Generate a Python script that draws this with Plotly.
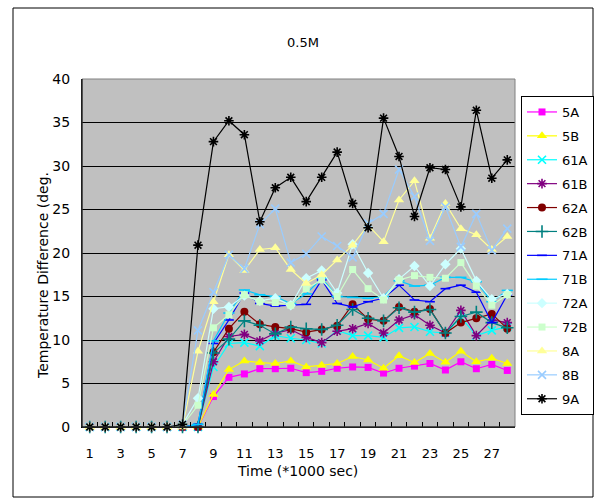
import plotly.graph_objects as go

# Time axis (x1000 sec)
time = list(range(1, 29))
tick_labels = [1, 3, 5, 7, 9, 11, 13, 15, 17, 19, 21, 23, 25, 27]

# Temperature difference per sensor
s_5A = [0, 0, 0, 0, 0, 0, 0, 0, 3.5, 5.7, 6.1, 6.7, 6.7, 6.75, 6.25, 6.4, 6.75, 6.9, 6.85, 6.2, 6.75, 7.0, 7.3, 6.55, 7.5, 6.7, 7.2, 6.5]
s_5B = [0, 0, 0, 0, 0, 0, 0, 0, 3.75, 6.6, 7.6, 7.4, 7.3, 7.6, 6.9, 7.1, 7.3, 8.1, 7.7, 6.75, 8.2, 7.4, 8.45, 7.45, 8.7, 7.5, 7.9, 7.3]
s_61A = [0, 0, 0, 0, 0, 0, 0, 0, 6.9, 9.6, 9.7, 9.3, 10.5, 10.2, 10.0, 9.6, 11.1, 10.5, 10.5, 10.3, 11.4, 11.5, 10.95, 10.8, 12.6, 10.5, 11.1, 11.5]
s_61B = [0, 0, 0, 0, 0, 0, 0, 0, 7.5, 10.4, 10.65, 9.9, 10.8, 11.2, 10.3, 9.7, 11.0, 11.3, 11.9, 10.8, 12.3, 12.9, 11.7, 10.8, 13.4, 10.5, 12.3, 12.0]
s_62A = [0, 0, 0, 0, 0, 0, 0, 0, 8.6, 11.3, 13.25, 11.8, 11.5, 11.3, 10.9, 11.2, 11.65, 14.1, 12.4, 12.2, 13.8, 13.25, 13.55, 10.8, 12.0, 12.5, 13.0, 11.3]
s_62B = [0, 0, 0, 0, 0, 0, 0, 0, 8.5, 10.1, 12.2, 11.7, 10.7, 11.5, 11.3, 11.2, 11.7, 13.5, 12.5, 12.2, 13.7, 13.2, 13.5, 10.8, 12.7, 13.2, 12.0, 11.4]
s_71A = [0, 0, 0, 0, 0, 0, 0, 0.3, 9.6, 12.3, 15.4, 14.2, 13.9, 14.0, 14.1, 16.9, 14.2, 13.8, 14.4, 14.8, 16.3, 14.6, 14.4, 15.9, 16.3, 15.5, 12.0, 15.2]
s_71B = [0, 0, 0, 0, 0, 0, 0, 0.3, 9.9, 13.1, 15.75, 15.2, 15.0, 14.2, 15.3, 17.1, 15.0, 14.9, 14.8, 15.0, 16.8, 16.2, 16.3, 17.2, 17.2, 16.7, 14.4, 15.7]
s_72A = [0, 0, 0, 0, 0, 0, 0.3, 3.3, 13.6, 13.8, 15.1, 14.5, 14.8, 14.0, 17.1, 18.0, 15.4, 21.0, 17.7, 14.8, 17.0, 18.5, 16.2, 18.7, 20.5, 16.8, 14.7, 15.3]
s_72B = [0, 0, 0, 0, 0, 0, 0.2, 2.5, 11.4, 12.9, 15.2, 14.4, 14.3, 14.0, 15.9, 16.9, 15.0, 18.1, 15.9, 14.6, 16.9, 17.4, 17.2, 17.1, 18.9, 16.2, 14.0, 15.2]
s_8A = [0, 0, 0, 0, 0, 0, 0, 8.7, 14.4, 19.8, 18.0, 20.4, 20.6, 18.1, 16.5, 17.5, 19.2, 20.9, 23.2, 21.3, 26.1, 28.3, 21.7, 25.7, 22.8, 22.1, 20.4, 21.9]
s_8B = [0, 0, 0, 0, 0, 0, 0.3, 11.1, 15.5, 19.8, 18.2, 23.3, 25.1, 18.9, 19.9, 21.9, 20.8, 19.5, 23.4, 24.5, 29.6, 26.5, 21.4, 25.3, 20.7, 24.5, 20.3, 22.8]
s_9A = [0, 0, 0, 0, 0, 0, 0.3, 20.9, 32.8, 35.2, 33.6, 23.6, 27.5, 28.7, 25.9, 28.7, 31.6, 25.7, 22.9, 35.5, 31.1, 24.2, 29.8, 29.6, 25.3, 36.4, 28.6, 30.7]

# name, values, colour, marker symbol, marker size
series = [
    ("5A", s_5A, "#FF00FF", "square", 7),
    ("5B", s_5B, "#FFFF00", "triangle-up", 9),
    ("61A", s_61A, "#00FFFF", "x-thin-open", 8),
    ("61B", s_61B, "#800080", "asterisk-open", 8),
    ("62A", s_62A, "#800000", "circle", 8),
    ("62B", s_62B, "#008080", "cross-thin-open", 9),
    ("71A", s_71A, "#0000FF", "line-ew-open", 7),
    ("71B", s_71B, "#00CCFF", "line-ew-open", 8),
    ("72A", s_72A, "#CCFFFF", "diamond", 8),
    ("72B", s_72B, "#CCFFCC", "square", 7),
    ("8A", s_8A, "#FFFF99", "triangle-up", 9),
    ("8B", s_8B, "#99CCFF", "x-thin-open", 8),
    ("9A", s_9A, "#000000", "asterisk-open", 8),
]

FONT = "DejaVu Sans"
fig = go.Figure()
for name, vals, color, sym, size in series:
    open_sym = sym.endswith("-open")
    fig.add_trace(go.Scatter(
        x=time, y=vals, name=name, mode="lines+markers",
        legendgroup=name,
        line=dict(color=color, width=1.2),
        marker=dict(symbol=sym, size=size, color=color,
                    line=dict(width=1.6 if open_sym else 0, color=color)),
        cliponaxis=False,
    ))

L, R, T, B = 82, 82, 79, 73
pw = 597 - L - R
ph = 500 - T - B

def px(xp):
    return (xp - L) / pw

def py(yp):
    return (500 - B - yp) / ph

fig.update_layout(
    width=597, height=500,
    margin=dict(l=L, r=R, t=T, b=B, autoexpand=False),
    paper_bgcolor="white",
    plot_bgcolor="#C0C0C0",
    font=dict(family=FONT, size=13, color="black"),
    showlegend=True,
    legend=dict(
        x=px(521), y=py(96), xanchor="left", yanchor="top",
        bgcolor="white", bordercolor="black", borderwidth=1,
        font=dict(family=FONT, size=13),
        tracegroupgap=4, traceorder="grouped", itemwidth=30,
    ),
    xaxis=dict(
        range=[0.5, 28.5], tickmode="array", tickvals=tick_labels,
        ticktext=[str(v) for v in tick_labels],
        ticks="", showgrid=False, zeroline=False,
        showline=True, linecolor="black", linewidth=1,
        tickfont=dict(family=FONT, size=13),
        ticklabelstandoff=14,
        minor=dict(tickvals=[k + 0.5 for k in range(1, 28)], ticks="inside",
                   ticklen=5, tickcolor="black", showgrid=False),
    ),
    yaxis=dict(
        range=[0, 40], tickmode="linear", tick0=0, dtick=5,
        showgrid=True, gridcolor="black", gridwidth=1,
        zeroline=False, showline=True, linecolor="black", linewidth=1,
        ticks="inside", ticklen=4, tickcolor="black",
        tickfont=dict(family=FONT, size=14),
        ticklabelstandoff=8,
    ),
)

# plot-area border (gray top/right)
fig.add_shape(type="rect", xref="paper", yref="paper", x0=0, x1=1, y0=0, y1=1,
              line=dict(color="#808080", width=1), layer="above")
fig.add_shape(type="line", xref="paper", yref="paper", x0=0, x1=1, y0=0, y1=0,
              line=dict(color="black", width=1), layer="above")
fig.add_shape(type="line", xref="paper", yref="paper", x0=0, x1=0, y0=0, y1=1,
              line=dict(color="black", width=1), layer="above")
# outer chart frame
fig.add_shape(type="rect", xref="paper", yref="paper",
              x0=px(13), x1=px(593), y0=py(497), y1=py(8),
              line=dict(color="black", width=1), layer="above")

fig.add_annotation(text="0.5M", xref="paper", yref="paper", x=px(303), y=py(33),
                   showarrow=False, font=dict(family=FONT, size=13))
fig.add_annotation(text="Time (*1000 sec)", xref="paper", yref="paper",
                   x=px(297), y=py(481), showarrow=False,
                   font=dict(family=FONT, size=14))
fig.add_annotation(text="Temperature Difference (deg.", xref="paper", yref="paper",
                   x=px(33), y=py(276), showarrow=False, textangle=-90,
                   font=dict(family=FONT, size=14))

fig.write_html("out.html")
